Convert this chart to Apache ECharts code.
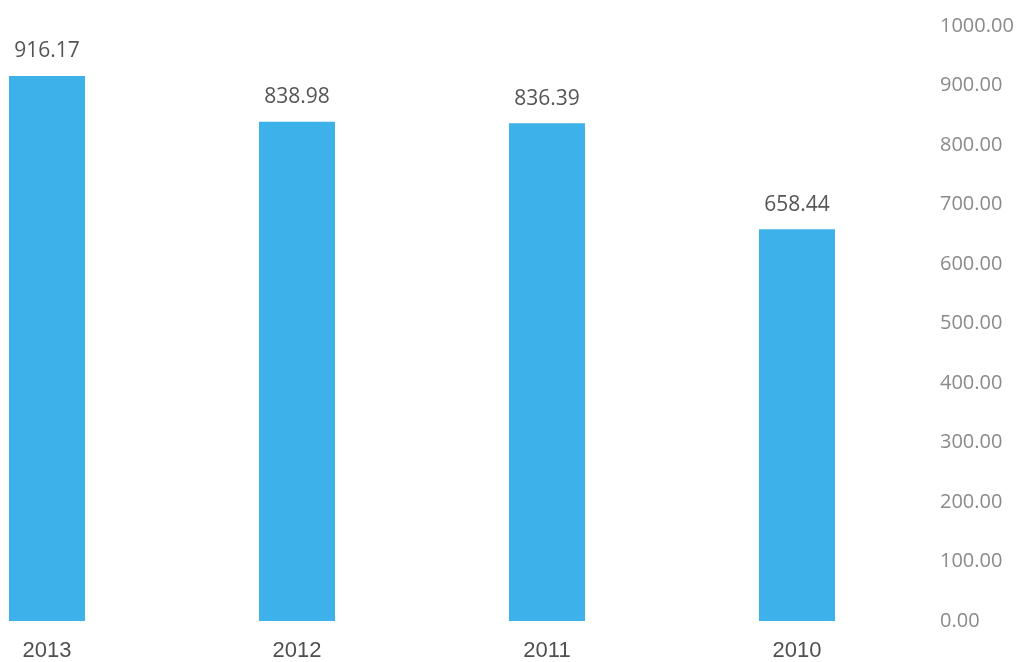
<!DOCTYPE html>
<html>
<head>
<meta charset="utf-8">
<script src="https://cdn.jsdelivr.net/npm/echarts@6/dist/echarts.min.js"></script>
<style>
html,body{margin:0;padding:0;background:#fff;}
#chart{width:1023px;height:662px;}
</style>
</head>
<body>
<div id="chart"></div>
<script>
// Yearly values, newest first
const years = ['2013', '2012', '2011', '2010'];
const values = [916.17, 838.98, 836.39, 658.44];

const chart = echarts.init(document.getElementById('chart'));
chart.setOption({
  animation: false,
  backgroundColor: '#ffffff',
  // categories sit on the ticks, so the first and last bars straddle the grid edges
  grid: { left: 47, right: 226, top: 26, bottom: 41, containLabel: false },
  xAxis: {
    type: 'category',
    data: years,
    boundaryGap: false,
    axisLine: { show: false },
    axisTick: { show: false },
    axisLabel: { color: '#505050', fontSize: 22, fontFamily: 'Liberation Sans, Arial', margin: 19 }
  },
  yAxis: {
    type: 'value',
    position: 'right',
    min: 0, max: 1000, interval: 100,
    splitLine: { show: false },
    axisLine: { show: false },
    axisTick: { show: false },
    axisLabel: {
      color: '#8a8a8a', fontSize: 20, fontFamily: 'Open Sans', margin: 143, align: 'left',
      formatter: v => v.toFixed(2)
    }
  },
  series: [{
    type: 'bar',
    data: values,
    barWidth: 76,
    clip: false,
    itemStyle: { color: '#3db2ea' },
    label: {
      show: true, position: 'top', distance: 14,
      color: '#555', fontSize: 21, fontFamily: 'Open Sans',
      formatter: p => p.value.toFixed(2)
    }
  }]
});
</script>
</body>
</html>
